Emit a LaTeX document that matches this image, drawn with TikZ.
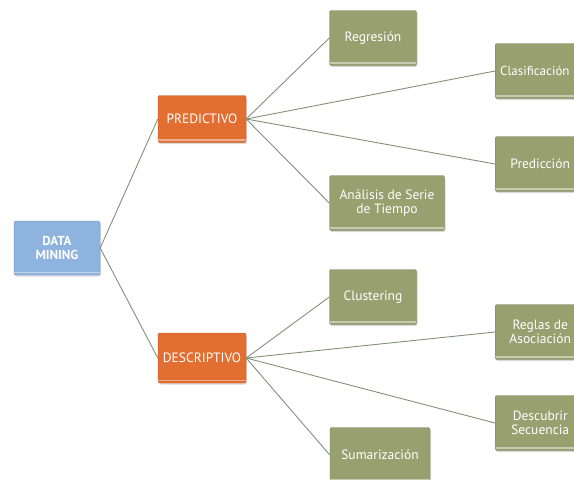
\documentclass[tikz,border=0pt]{standalone}
\usepackage{fontspec}
\setmainfont{PT Sans}
\usetikzlibrary{shadows}
\definecolor{azul}{RGB}{141,179,222}
\definecolor{naranja}{RGB}{226,110,50}
\definecolor{oliva}{RGB}{152,160,112}
\definecolor{linea}{RGB}{128,146,118}
\begin{document}
\begin{tikzpicture}[x=1pt,y=-1pt,
	caja/.style={rounded corners=2pt, text=white, align=center, inner sep=2pt,
		font=\fontsize{13.5}{14.5}\selectfont,
		drop shadow={opacity=0.3, shadow xshift=1pt, shadow yshift=-1.5pt},
		path picture={\draw[white, opacity=0.45, line width=1.5pt]
			([yshift=2.5pt]path picture bounding box.south west) -- ([yshift=2.5pt]path picture bounding box.south east);}},
	raiz/.style={caja, fill=azul, draw=azul!85!black, minimum width=86pt, minimum height=54pt, font=\fontsize{13}{13.5}\selectfont\bfseries},
	tipo/.style={caja, fill=naranja, draw=naranja!85!black, minimum width=88pt, minimum height=47pt},
	tarea/.style={caja, fill=oliva, draw=oliva!80!black, minimum width=87pt, minimum height=55pt},
	rama/.style={draw=linea, line width=0.9pt}]
			\useasboundingbox (0,0) rectangle (574,480);
			\clip (0,0) rectangle (574,480);
			\node[raiz] (dm) at (57,248) {DATA\\MINING};
			\node[tipo] (pred) at (202,119) {PREDICTIVO};
			\node[tipo, minimum height=50pt] (desc) at (202,358) {DESCRIPTIVO};
			\node[tarea] (reg) at (373,38) {Regresión};
			\node[tarea, anchor=west, text width=80pt, align=left, inner xsep=5pt,
				font=\fontsize{13}{14}\selectfont] (clas) at (495,71) {Clasificación};
			\node[tarea, minimum width=115pt] (ana) at (387,203) {Análisis de Serie\\de Tiempo};
			\node[tarea, anchor=west, minimum width=90pt] (predic) at (495,164) {Predicción};
			\node[tarea] (clus) at (373,297) {Clustering};
			\node[tarea, anchor=west, minimum width=90pt] (reglas) at (495,332) {Reglas de\\Asociación};
			\node[tarea, anchor=west, minimum width=90pt] (descu) at (495,423) {Descubrir\\Secuencia};
			\node[tarea, minimum width=100pt] (sum) at (380,455) {Sumarización};
			\draw[rama] (dm.east) -- (pred.west);
			\draw[rama] (dm.east) -- (desc.west);
			\draw[rama] (pred.east) -- (reg.west);
			\draw[rama] (pred.east) -- (clas.west);
			\draw[rama] (pred.east) -- (ana.west);
			\draw[rama] (pred.east) -- (predic.west);
			\draw[rama] (desc.east) -- (clus.west);
			\draw[rama] (desc.east) -- (reglas.west);
			\draw[rama] (desc.east) -- (descu.west);
			\draw[rama] (desc.east) -- (sum.west);
		\end{tikzpicture}
\end{document}
